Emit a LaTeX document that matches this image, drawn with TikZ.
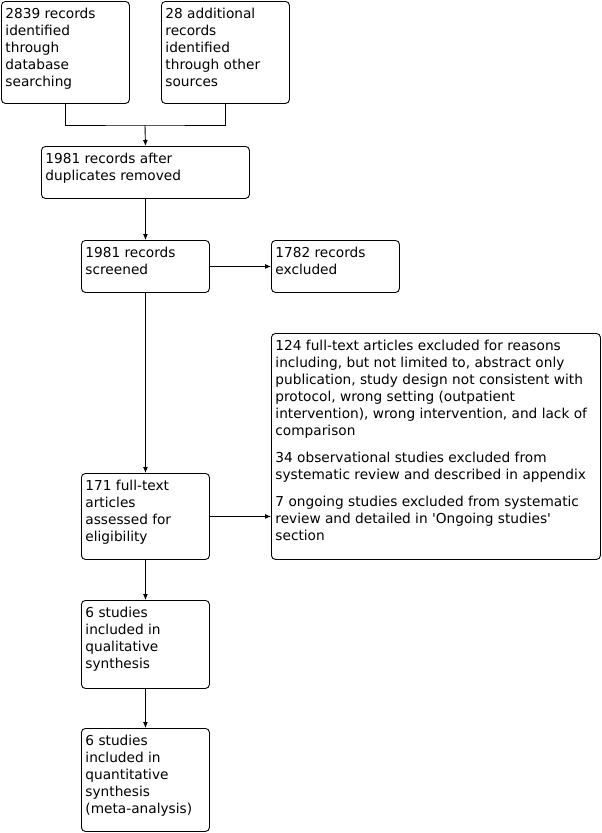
\documentclass[tikz,border=0pt]{standalone}
\usepackage{fontspec}
\setmainfont{DejaVu Sans}
\usetikzlibrary{arrows.meta}
\newcommand{\bxt}[3]{\parbox[c][#2][t]{#1}{\raggedright\rule{0pt}{13pt}#3}}
\tikzset{
  flowbox/.style={draw=black, line width=0.9pt, rounded corners=4pt, anchor=north west,
    inner xsep=4pt, inner ysep=4pt, font=\fontsize{13.7}{17}\selectfont},
  conn/.style={draw=black, line width=0.9pt},
  arr/.style={conn, -{Latex[length=6pt,width=5pt]}}
}
\begin{document}
\begin{tikzpicture}[x=1pt,y=-1pt]
\useasboundingbox (0,0) rectangle (602,833);
\node[flowbox] (a) at (1,1) {\bxt{120pt}{94pt}{2839 records\\identified\\through\\database\\searching}};
\node[flowbox] (b) at (161,1) {\bxt{120pt}{94pt}{28 additional\\records\\identified\\through other\\sources}};
\node[flowbox] (c) at (41,146) {\bxt{200pt}{44pt}{1981 records after\\duplicates removed}};
\node[flowbox] (d) at (81,240) {\bxt{120pt}{44pt}{1981 records\\screened}};
\node[flowbox] (e) at (271,240) {\bxt{120pt}{44pt}{1782 records\\excluded}};
\node[flowbox] (g) at (271,333) {\bxt{321pt}{218pt}{124 full-text articles excluded for reasons\\including, but not limited to, abstract only\\publication, study design not consistent with\\protocol, wrong setting (outpatient\\intervention), wrong intervention, and lack of\\comparison\\[10pt]34 observational studies excluded from\\systematic review and described in appendix\\[10pt]7 ongoing studies excluded from systematic\\review and detailed in \textquotesingle Ongoing studies\textquotesingle\\section}};
\node[flowbox] (f) at (81,473) {\bxt{120pt}{78pt}{171 full-text\\articles\\assessed for\\eligibility}};
\node[flowbox] (h) at (81,600) {\bxt{120pt}{80pt}{6 studies\\included in\\qualitative\\synthesis}};
\node[flowbox] (i) at (81,728) {\bxt{120pt}{95pt}{6 studies\\included in\\quantitative\\synthesis\\(meta-analysis)}};
\coordinate (join) at (145,125);
\draw[conn] (a.south) |- (join) -| (b.south);
\draw[arr] (join) -- (c.north);
\draw[arr] (c.south) -- (d.north);
\draw[arr] (d.east) -- (e.west);
\draw[arr] (d.south) -- (f.north);
\draw[arr] (f.east) -- (f.east -| g.west);
\draw[arr] (f.south) -- (h.north);
\draw[arr] (h.south) -- (i.north);
\end{tikzpicture}
\end{document}
